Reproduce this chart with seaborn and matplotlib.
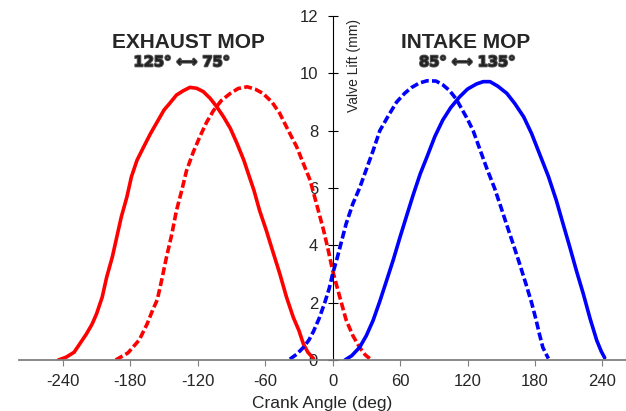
import pandas as pd
import matplotlib.pyplot as plt
import matplotlib.patheffects as pe
import seaborn as sns

# valve lift curves (crank angle deg, lift mm)
exh_base_deg = [-244, -237, -230, -225, -219, -214, -210, -205, -201, -196, -192, -188,
                -183, -179, -174, -168, -162, -156, -150, -145, -139, -133, -127, -121,
                -115, -109, -103, -97, -91, -85, -79, -75, -70, -65, -59, -53,
                -47, -41, -35, -30, -26, -22, -17]
exh_base_lift = [0.0, 0.1, 0.27, 0.56, 0.91, 1.25, 1.61, 2.19, 2.89, 3.59, 4.29, 4.99,
                 5.69, 6.39, 6.97, 7.44, 7.9, 8.31, 8.72, 8.95, 9.24, 9.39, 9.51, 9.48,
                 9.36, 9.13, 8.83, 8.48, 8.08, 7.55, 6.97, 6.5, 5.92, 5.22, 4.52, 3.76,
                 3.01, 2.19, 1.49, 1.03, 0.56, 0.27, 0.05]

exh_mod_deg = [-193, -182, -172, -165, -160, -156, -152, -148, -143, -139, -134, -130,
               -124, -118, -112, -106, -99, -91, -84, -76, -69, -62, -54, -47,
               -40, -32, -26, -20, -14, -8, -4, 0, 6, 12, 18, 24, 29, 33]
exh_mod_lift = [0.0, 0.25, 0.7, 1.26, 1.75, 2.1, 2.8, 3.55, 4.4, 5.2, 5.95, 6.6,
                7.25, 7.8, 8.3, 8.7, 9.05, 9.3, 9.47, 9.53, 9.45, 9.3, 9.0, 8.6,
                8.05, 7.44, 6.85, 6.27, 5.4, 4.52, 3.85, 3.12, 2.25, 1.4, 0.85, 0.44, 0.18, 0.05]

int_mod_deg = [-38, -32, -26, -21, -17, -12, -7, -3, 0, 4, 7, 12, 18, 24, 30, 36,
               42, 50, 57, 64, 70, 77, 84, 92, 98, 104, 110, 115, 120, 125, 131, 137,
               144, 150, 155, 161, 166, 172, 177, 181, 184, 187, 190, 192]
int_mod_lift = [0.03, 0.2, 0.44, 0.7, 1.0, 1.45, 2.0, 2.5, 3.0, 3.55, 4.0, 4.75, 5.45, 6.0, 6.65, 7.3,
                8.0, 8.55, 9.0, 9.3, 9.5, 9.66, 9.74, 9.73, 9.6, 9.4, 9.1, 8.75, 8.4, 8.0, 7.35, 6.7,
                6.0, 5.3, 4.7, 4.0, 3.4, 2.65, 2.0, 1.4, 0.9, 0.44, 0.2, 0.05]

int_base_deg = [11, 17, 24, 30, 36, 42, 48, 54, 60, 66, 72, 78, 84, 91, 98, 105,
                113, 120, 128, 134, 140, 147, 155, 162, 170, 177, 184, 192, 199, 205,
                211, 217, 223, 229, 235, 239, 242]
int_base_lift = [0.0, 0.15, 0.44, 0.85, 1.38, 2.05, 2.77, 3.5, 4.29, 5.05, 5.8, 6.5, 7.09, 7.8, 8.37, 8.8,
                 9.18, 9.45, 9.63, 9.71, 9.71, 9.55, 9.3, 8.95, 8.48, 7.9, 7.2, 6.4, 5.57, 4.75,
                 3.94, 3.1, 2.31, 1.45, 0.68, 0.3, 0.08]

x_ticks = [-240, -180, -120, -60, 0, 60, 120, 180, 240]
y_ticks = [0, 2, 4, 6, 8, 10, 12]

sns.set_style("white")
plt.rcParams['font.family'] = ['Liberation Sans', 'DejaVu Sans']
plt.rcParams['axes.unicode_minus'] = False

fig = plt.figure(figsize=(6.26, 4.11), dpi=100)
ax = fig.add_axes([19 / 626, 51 / 411, 607 / 626, 344 / 411])

curves = [
    (exh_base_deg, exh_base_lift, '#ff0000', False),
    (exh_mod_deg, exh_mod_lift, '#ff0000', True),
    (int_mod_deg, int_mod_lift, '#0000ff', True),
    (int_base_deg, int_base_lift, '#0000ff', False),
]
for xs, ys, col, dashed in curves:
    df = pd.DataFrame({'deg': xs, 'lift': ys})
    sns.lineplot(data=df, x='deg', y='lift', color=col, lw=2.6, sort=False, ax=ax)
    if dashed:
        ax.lines[-1].set_dashes((2.2, 0.9))

ax.set_xlim(-279, 261)
ax.set_ylim(0, 12)
ax.set_xticks(x_ticks)
ax.set_yticks(y_ticks)

ax.spines['left'].set_position(('data', 0))
ax.spines['left'].set_color('black')
ax.spines['left'].set_linewidth(0.8)
ax.spines['bottom'].set_color('#7f7f7f')
ax.spines['bottom'].set_linewidth(1.3)
ax.spines['top'].set_visible(False)
ax.spines['right'].set_visible(False)

ax.tick_params(axis='x', direction='out', length=4, width=0.8, color='#7f7f7f',
               labelsize=12, pad=6, bottom=True)
ax.tick_params(axis='y', direction='inout', length=7, width=0.8, color='black',
               labelsize=12, pad=7, left=True)

ax.set_xlabel('Crank Angle (deg)', fontsize=12.5, labelpad=5)
ax.set_ylabel('')
ax.text(19, 10.27, 'Valve Lift (mm)', rotation=90, fontsize=10,
        ha='center', va='center')

shadow = [pe.withStroke(linewidth=1.4, foreground='#555555')]
ax.text(-128, 11.08, 'EXHAUST MOP', fontsize=15, fontweight='bold',
        ha='center', va='center')
ax.text(-134, 10.4, '125° ⟷ 75°', fontsize=10.5, fontweight='bold',
        color='#222222', ha='center', va='center', family=['DejaVu Sans'],
        path_effects=shadow)
ax.text(118, 11.08, 'INTAKE MOP', fontsize=15, fontweight='bold',
        ha='center', va='center')
ax.text(120, 10.4, '85° ⟷ 135°', fontsize=10.5, fontweight='bold',
        color='#222222', ha='center', va='center', family=['DejaVu Sans'],
        path_effects=shadow)

fig.savefig('out.png', dpi=100)
